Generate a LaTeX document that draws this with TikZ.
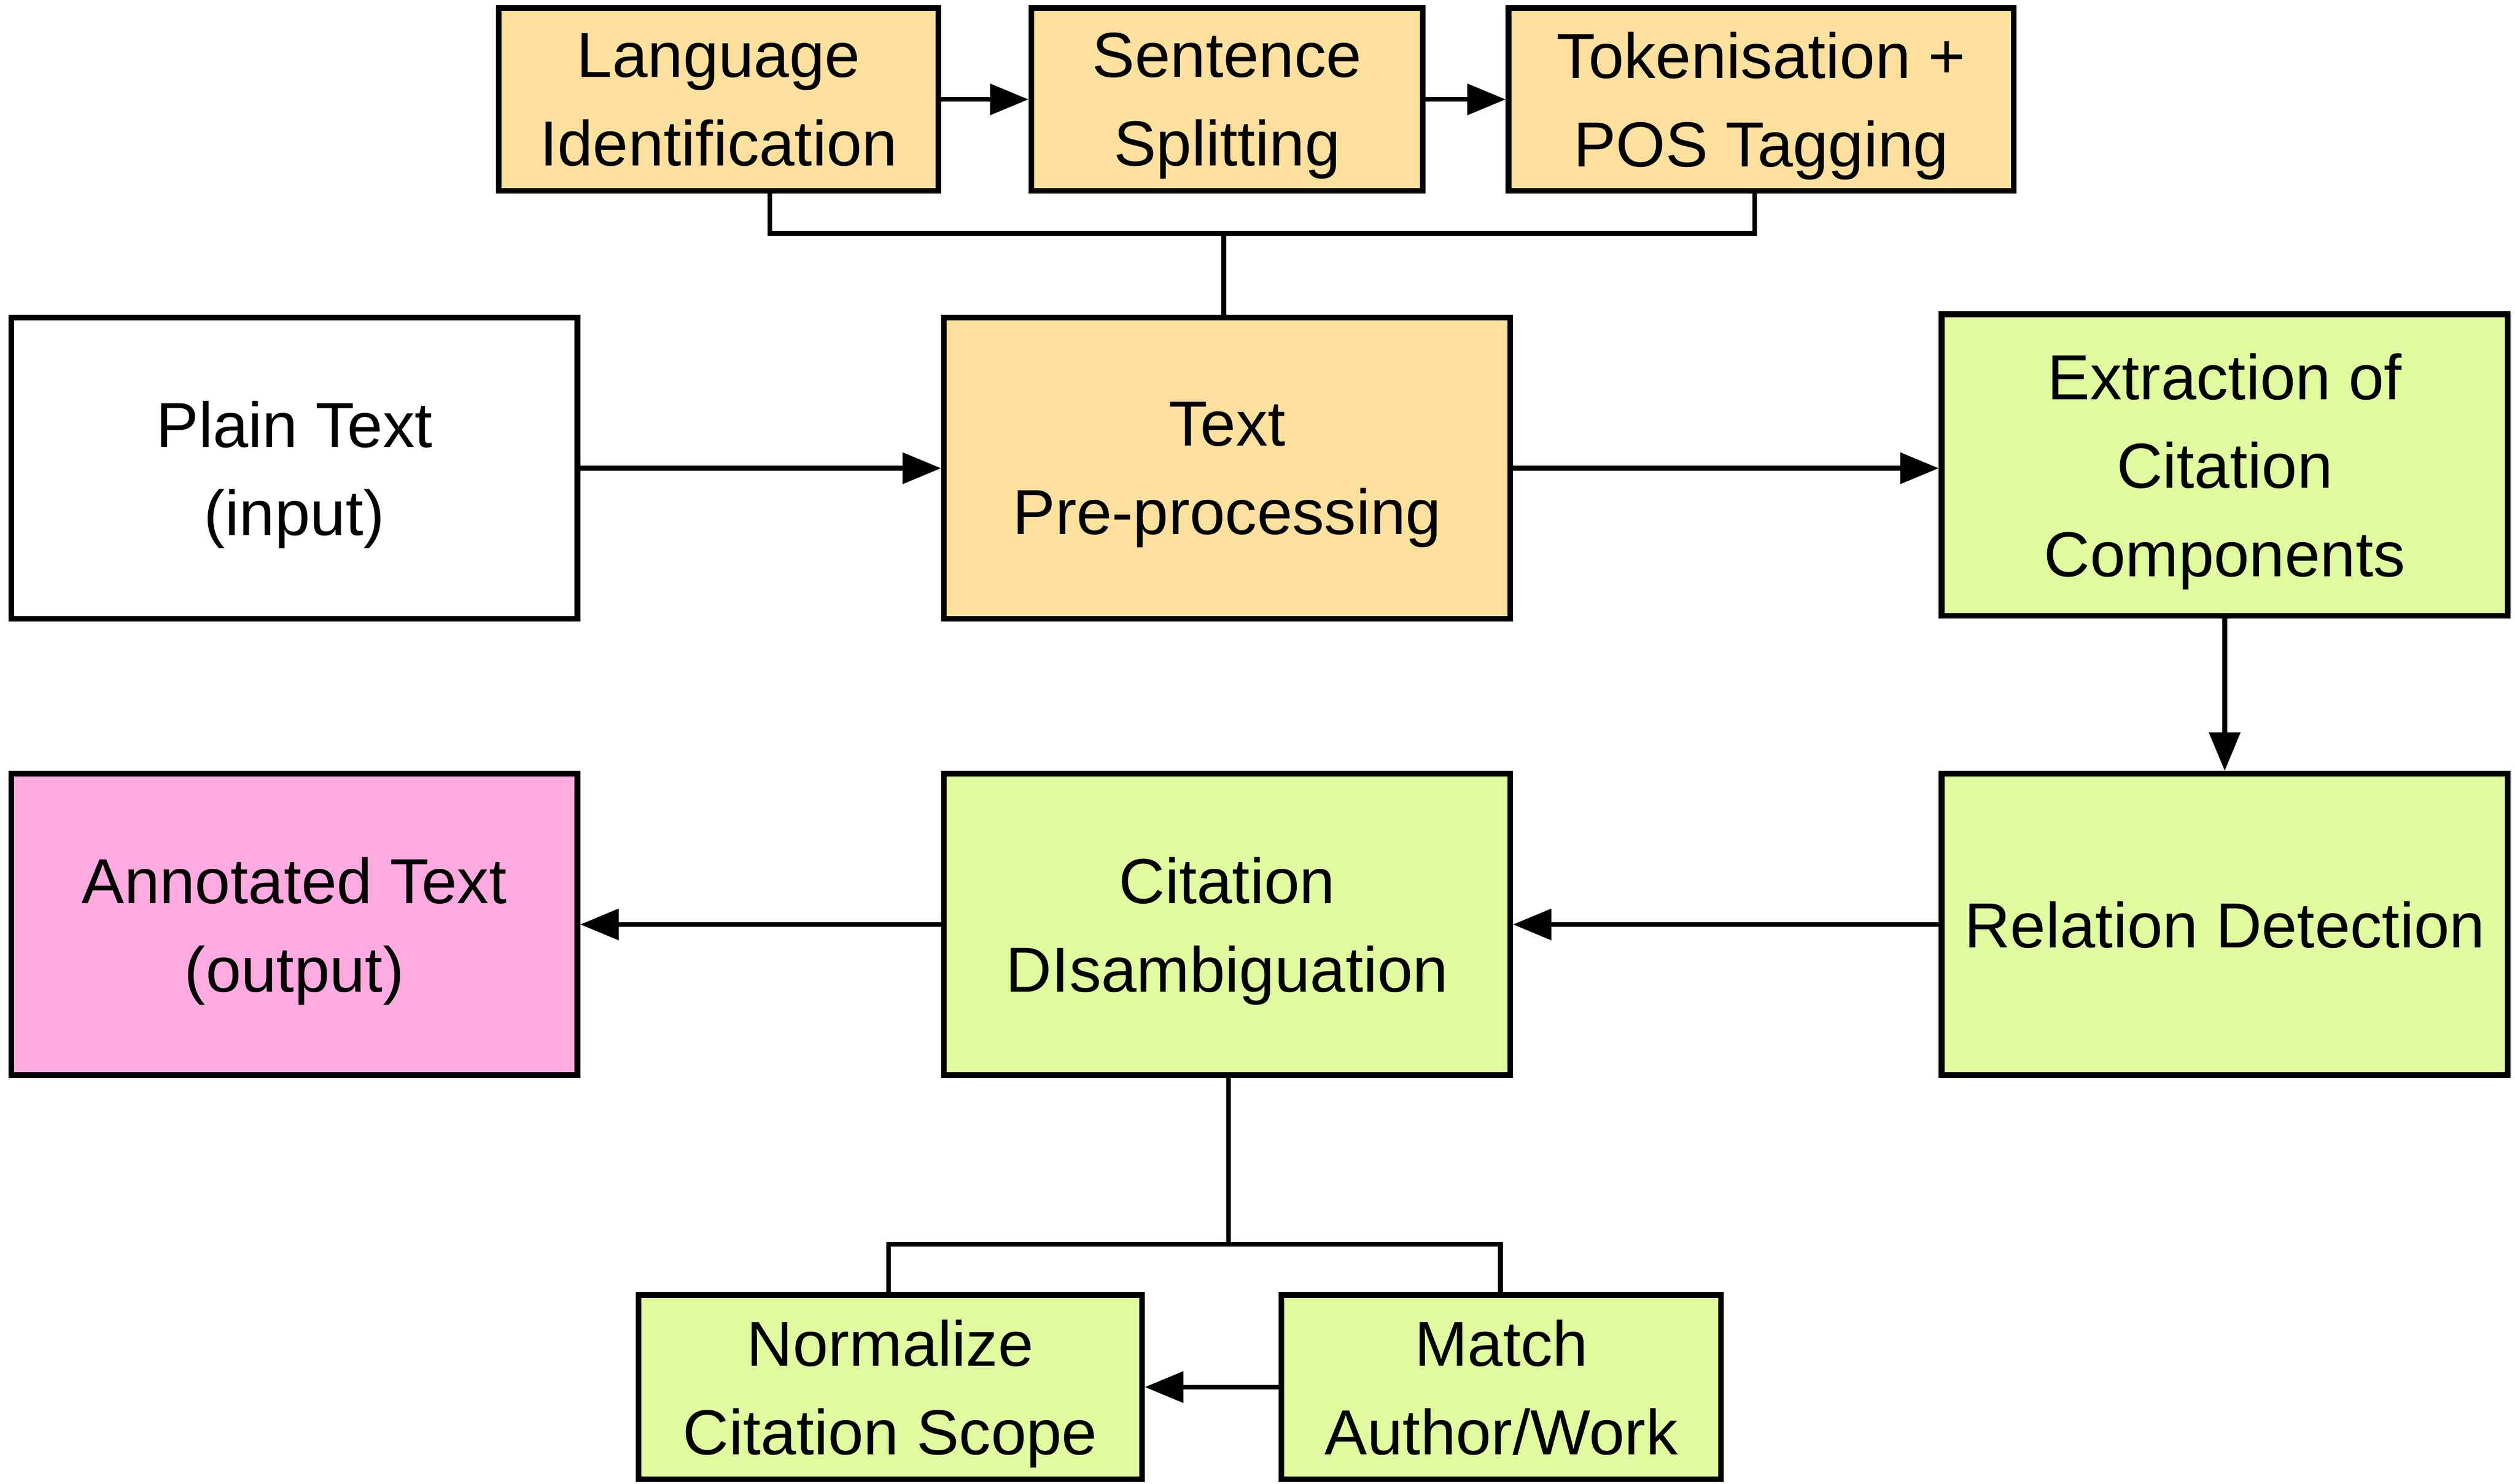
\documentclass[tikz,border=0pt]{standalone}
\usepackage{fontspec}
\setmainfont{Liberation Sans}
\usetikzlibrary{arrows.meta}
\definecolor{boxorange}{RGB}{254,224,158}
\definecolor{boxgreen}{RGB}{224,250,160}
\definecolor{boxpink}{RGB}{255,170,224}
\begin{document}
\begin{tikzpicture}[x=0.1mm,y=-0.1mm,
  box/.style={draw=black, line width=1pt, rectangle, align=center, inner sep=0pt,
              text depth=0pt, font=\fontsize{11.3}{15.7}\selectfont},
  bigbox/.style={box, minimum width=35.3mm, minimum height=18.8mm},
  conn/.style={line width=0.85pt, line join=miter},
  arr/.style={conn, -{Triangle[length=2.4mm,width=1.9mm]}}]
\useasboundingbox (0,0) rectangle (1568,925.3);

% top row
\node[box, fill=boxorange, minimum width=27.4mm, minimum height=11.4mm] (lang) at (448,62) {Language\\Identification};
\node[box, fill=boxorange, minimum width=24.4mm, minimum height=11.4mm] (sent) at (765,62) {Sentence\\Splitting};
\node[box, fill=boxorange, minimum width=31.5mm, minimum height=11.4mm] (tok) at (1098,62) {Tokenisation +\\POS Tagging};

% middle row
\node[bigbox, fill=white] (plain) at (183.5,292) {Plain Text\\(input)};
\node[bigbox, fill=boxorange] (pre) at (765,292) {Text\\Pre-processing};
\node[bigbox, fill=boxgreen] (ext) at (1387,290) {Extraction of\\Citation\\Components};

% lower row
\node[bigbox, fill=boxpink] (ann) at (183.5,576.5) {Annotated Text\\(output)};
\node[bigbox, fill=boxgreen] (cit) at (765,576.5) {Citation\\DIsambiguation};
\node[bigbox, fill=boxgreen] (rel) at (1387,576.5) {Relation Detection};

% bottom row
\node[box, fill=boxgreen, minimum width=31.4mm, minimum height=11.5mm] (norm) at (555,865) {Normalize\\Citation Scope};
\node[box, fill=boxgreen, minimum width=27.4mm, minimum height=11.5mm] (match) at (936,865) {Match\\Author/Work};

% bracket coordinates
\coordinate (tbL) at (480,145.5);
\coordinate (tbM) at (763,145.5);
\coordinate (tbR) at (1094,145.5);
\coordinate (bbL) at (554,776);
\coordinate (bbM) at (766,776);
\coordinate (bbR) at (935.5,776);

% arrows
\draw[arr] (lang.east) -- (sent.west);
\draw[arr] (sent.east) -- (tok.west);
\draw[arr] (plain.east) -- (pre.west);
\draw[arr] (pre.east) -- (pre.east -| ext.west);
\draw[arr] (ext.south) -- (rel.north);
\draw[arr] (rel.west) -- (cit.east);
\draw[arr] (cit.west) -- (ann.east);
\draw[arr] (match.west) -- (norm.east);

% brackets
\draw[conn] (lang.south -| tbL) -- (tbL) -- (tbR) -- (tok.south -| tbR);
\draw[conn] (tbM) -- (pre.north -| tbM);
\draw[conn] (cit.south -| bbM) -- (bbM);
\draw[conn] (norm.north -| bbL) -- (bbL) -- (bbR) -- (match.north -| bbR);
\end{tikzpicture}
\end{document}
